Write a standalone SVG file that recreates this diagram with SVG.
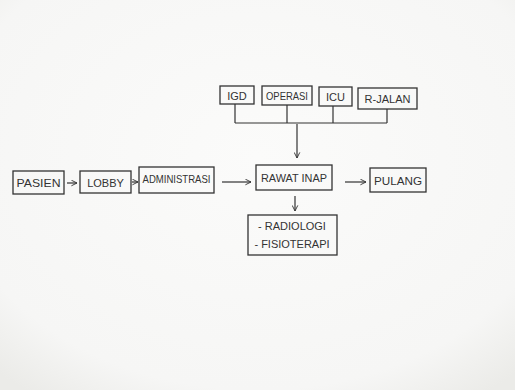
<svg xmlns="http://www.w3.org/2000/svg" width="515" height="390" viewBox="0 0 515 390">
<defs>
<radialGradient id="paper" cx="50%" cy="40%" r="75%">
<stop offset="0" stop-color="#fbfbfa"/>
<stop offset="0.8" stop-color="#f6f6f5"/>
<stop offset="1" stop-color="#ebebe8"/>
</radialGradient>
<marker id="ah" viewBox="0 0 10 10" refX="9" refY="5" markerWidth="7" markerHeight="7" orient="auto" markerUnits="userSpaceOnUse">
<path d="M1,1 L9,5 L1,9" fill="none" stroke="#333" stroke-width="1.3"/>
</marker>
</defs>
<style>
.box{fill:none;stroke:#333;stroke-width:1.3}
.t{font-family:"Liberation Sans",Arial,sans-serif;fill:#333;font-size:11px;text-anchor:middle}
.c{fill:none;stroke:#333;stroke-width:1.2}
</style>
<rect width="515" height="390" fill="url(#paper)"/>
<g id="igd"><rect class="box" x="220" y="86" width="34" height="18"/><text class="t" x="237" y="99.5" font-size="12">IGD</text></g>
<g id="operasi"><rect class="box" x="262" y="86" width="50" height="19"/><text class="t" x="287" y="99.5" font-size="9" textLength="42" lengthAdjust="spacingAndGlyphs">OPERASI</text></g>
<g id="icu"><rect class="box" x="319" y="87" width="33" height="19"/><text class="t" x="335.5" y="100.5" font-size="12">ICU</text></g>
<g id="rjalan"><rect class="box" x="358" y="88" width="59" height="21"/><text class="t" x="387.5" y="102.5" font-size="10">R-JALAN</text></g>
<g id="pasien"><rect class="box" x="13" y="171" width="51" height="23"/><text class="t" x="38.5" y="187" font-size="11.5" textLength="44" lengthAdjust="spacingAndGlyphs">PASIEN</text></g>
<g id="lobby"><rect class="box" x="80" y="171" width="51" height="22"/><text class="t" x="105.5" y="186.5" font-size="11.5">LOBBY</text></g>
<g id="administrasi"><rect class="box" x="139" y="167" width="75" height="26"/><text class="t" x="176.5" y="183" font-size="9.5" textLength="68" lengthAdjust="spacingAndGlyphs">ADMINISTRASI</text></g>
<g id="rawatinap"><rect class="box" x="256" y="165" width="76" height="25"/><text class="t" x="294" y="181.5" font-size="10.5" textLength="66" lengthAdjust="spacingAndGlyphs">RAWAT INAP</text></g>
<g id="pulang"><rect class="box" x="370" y="168" width="56" height="24"/><text class="t" x="398" y="184.5" font-size="12" textLength="48" lengthAdjust="spacingAndGlyphs">PULANG</text></g>
<g id="penunjang"><rect class="box" x="248" y="215" width="89" height="40"/>
<text class="t" x="292" y="230" font-size="10">- RADIOLOGI</text>
<text class="t" x="292" y="248" font-size="9.5">- FISIOTERAPI</text></g>
<g id="connectors">
<path class="c" d="M235,104 V123 M287,105 V123 M333,106 V123 M387,109 V123 M235,123 H387"/>
<line class="c" x1="297" y1="124" x2="297" y2="158" marker-end="url(#ah)"/>
<line class="c" x1="67" y1="183" x2="77" y2="183" marker-end="url(#ah)"/>
<line class="c" x1="132" y1="182" x2="138" y2="182" marker-end="url(#ah)"/>
<line class="c" x1="222" y1="182" x2="251" y2="182" marker-end="url(#ah)"/>
<line class="c" x1="345" y1="182" x2="366" y2="182" marker-end="url(#ah)"/>
<line class="c" x1="295" y1="196" x2="295" y2="211" marker-end="url(#ah)"/>
</g>
</svg>
